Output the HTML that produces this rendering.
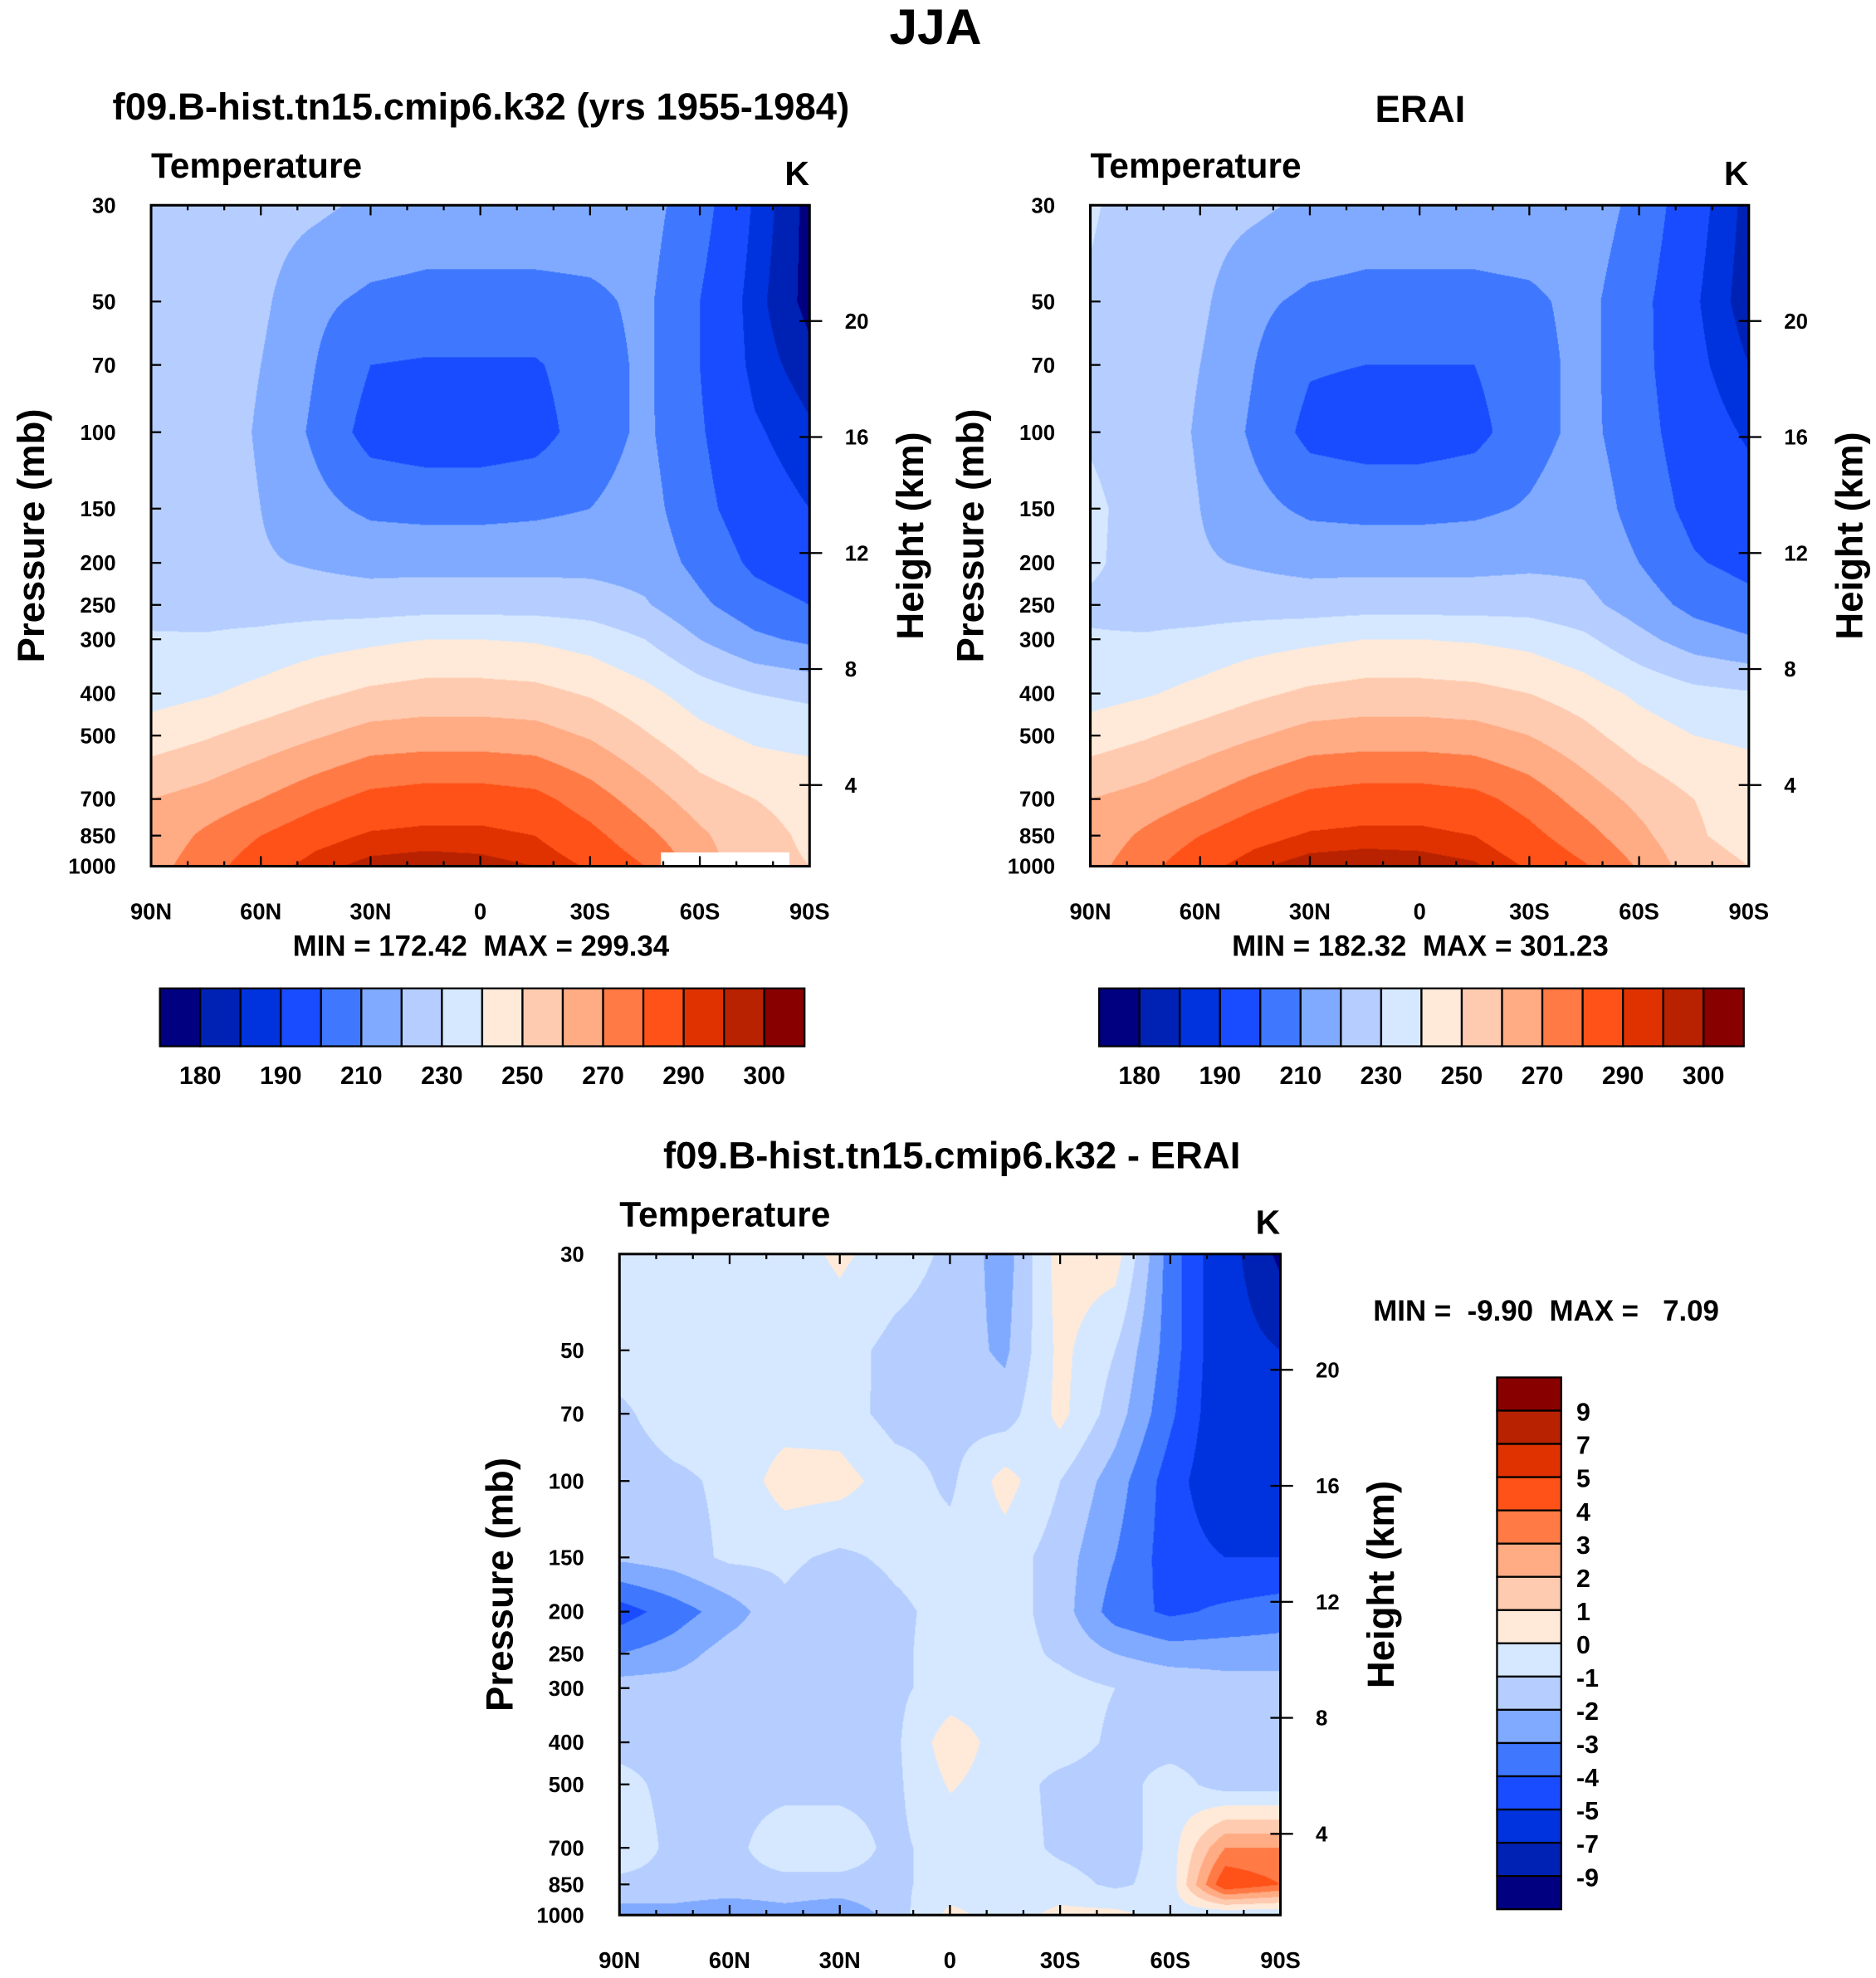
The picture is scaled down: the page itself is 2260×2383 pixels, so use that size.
<!DOCTYPE html>
<html><head><meta charset="utf-8">
<style>
html,body{margin:0;padding:0;background:#fff;}
#root{position:absolute;left:0;top:0;width:1490px;height:1571px;transform:scale(1.51678,1.51687);transform-origin:0 0;font-family:"Liberation Sans",Arial,sans-serif;}
canvas{position:absolute;}
svg{position:absolute;left:0;top:0;}
svg text{white-space:pre;}
</style></head>
<body>
<div id="root">
<canvas id="c1" style="left:120px;top:163px;width:523px;height:525px" width="793" height="796"></canvas>
<canvas id="c2" style="left:866px;top:163px;width:523px;height:525px" width="793" height="796"></canvas>
<canvas id="c3" style="left:492px;top:996px;width:525px;height:525px" width="796" height="796"></canvas>
<svg id="s" width="1490" height="1571" viewBox="0 0 1490 1571" font-family="Liberation Sans, Arial, sans-serif" font-weight="bold" xml:space="preserve"></svg>
</div>
<script>
// ---- data ----
const lats = ["90N","75N","60N","45N","30N","15N","0","15S","30S","45S","60S","75S","90S"];
const levels = [30,50,70,100,150,200,250,300,400,500,700,850,1000];
const tempBounds = [180,185,190,200,210,220,230,240,250,260,270,280,290,295,300];
const tempLabels = ["180","190","210","230","250","270","290","300"];
const diffBounds = [-9,-7,-5,-4,-3,-2,-1,0,1,2,3,4,5,7,9];
const diffLabels = ["-9","-7","-5","-4","-3","-2","-1","0","1","2","3","4","5","7","9"];
const palette = ["#000080","#0022b4","#0033dd","#1a4cff","#3f78ff","#80aaff","#b5ceff","#d6e8ff","#ffead9","#ffcbb0","#ffab84","#ff7a45","#ff5218","#e03200","#b82200","#880000"];
const modelT = [
[226,225,224,222,218,216,216,216,216,214,204,189,178],
[226,225,222,212,208,207,207,207,208,212,200,187,178],
[226,225,220,210,200,199,199,199,205,212,200,188,182],
[226,225,219,208,196,194,194,196,205,212,201,191,186],
[227,225,220,213,208,207,207,208,210,214,203,194,190],
[226,224,221,219,217,217,217,217,217,216,207,198,194],
[227,226,225,225,225,226,226,226,225,221,212,204,200],
[231,231,233,236,238,240,240,239,236,230,220,212,208],
[236,239,243,248,252,254,254,253,249,243,235,230,228],
[245,249,254,259,264,265,265,264,259,251,243,238,236],
[260,264,270,277,283,285,285,283,275,265,255,250,248],
[263,272,280,287,291,292,292,290,283,273,262,252,249],
[266,276,286,293,297,298,297,295,289,280,266,252,250]];
const eraiT = [
[231,226,224,222,218,216,216,216,217,216,207,193,183],
[229,225,222,212,208,207,207,207,208,213,203,191,182],
[228,225,220,210,201,200,200,200,206,213,203,192,185],
[229,225,219,208,197,195,195,197,206,213,204,194,189],
[232,226,220,213,208,207,207,208,211,216,206,197,193],
[232,225,221,219,217,217,217,217,218,218,210,201,197],
[228,226,225,225,225,226,226,226,226,223,215,207,203],
[231,231,233,236,238,240,240,239,237,232,223,215,211],
[236,239,243,248,252,254,254,253,250,245,238,233,231],
[245,249,254,259,264,265,265,264,260,253,245,240,238],
[260,264,270,277,283,285,285,283,276,266,257,250,247],
[263,272,280,287,291,292,292,290,283,274,263,251,247],
[266,277,287,294,298,299,298,296,289,281,269,254,250]];
const diffT = [
[-0.5,-0.5,-0.5,-0.5,0.2,-0.5,-1.2,-2.5,0.5,0.5,-3.5,-6,-9.5],
[-0.5,-0.5,-0.5,-0.8,-0.6,-1.3,-1.5,-2.2,0.3,-1,-3.5,-6,-7],
[-1.2,-0.5,-0.6,-0.5,-0.5,-1.4,-1.3,-1.5,0.3,-1.5,-3.8,-6,-6],
[-1.5,-1.2,-0.8,0.5,0.4,-0.5,-1.2,0.4,-1,-2.5,-4.5,-6,-5.5],
[-1.8,-1.5,-0.8,-0.8,-1.2,-0.8,-0.6,-0.5,-1.5,-3,-4.5,-5,-5],
[-4.5,-3.5,-2.5,-1.2,-1.8,-1.2,-0.7,-0.5,-1.5,-3.5,-4.2,-3.8,-3.5],
[-3,-2.5,-1.5,-1.2,-2,-1.2,-0.6,-0.5,-1.2,-2,-2.5,-2.5,-2.5],
[-1.5,-1.5,-1.2,-1.2,-1.3,-1.2,-0.6,-0.5,-0.6,-1,-1.2,-1.5,-1.5],
[-1.2,-1.2,-1.2,-1.2,-1.2,-1.2,0.6,-0.5,-0.5,-1.2,-1.5,-1.5,-1.5],
[-0.8,-1.2,-1.2,-1.2,-1.2,-1.2,0.1,-0.5,-1.3,-1.5,-0.5,-1.5,-1.5],
[-0.5,-1.2,-1.2,-0.6,-0.6,-1.2,-0.6,-0.5,-1.2,-1.5,-0.5,3,3],
[-1.2,-1.2,-1.2,-1.2,-1.2,-1.2,-0.6,-0.5,-0.6,-1.2,-0.6,5,4],
[-2.5,-2.5,-3,-2.5,-3,-1.5,0.3,-0.5,0.3,0.3,-0.5,-1,-1]];
const xTickLabels = ["90N","60N","30N","0","30S","60S","90S"];
const pTicks = [30,50,70,100,150,200,250,300,400,500,700,850,1000];
const hTicks = [20,16,12,8,4];

// ---- helpers ----
const L30=Math.log(30), L1000=Math.log(1000);
const logLev = levels.map(Math.log);
function pFrac(p){return (Math.log(p)-L30)/(L1000-L30);}
function rowIndex(lp){
  for(let i=0;i<logLev.length-1;i++){ if(lp<=logLev[i+1]) return i+(lp-logLev[i])/(logLev[i+1]-logLev[i]); }
  return logLev.length-1;
}
function classify(v,b){let k=0;while(k<b.length&&v>=b[k])k++;return k;}
function drawField(id,grid,bounds){
  const cv=document.getElementById(id),ctx=cv.getContext('2d');
  const W=cv.width,H=cv.height,img=ctx.createImageData(W,H);
  const rgb=palette.map(c=>[parseInt(c.substr(1,2),16),parseInt(c.substr(3,2),16),parseInt(c.substr(5,2),16)]);
  const nc=lats.length-1;
  for(let y=0;y<H;y++){
    const lp=L30+(y+0.5)/H*(L1000-L30);
    let r=rowIndex(lp);let r0=Math.min(Math.floor(r),levels.length-2),fr=r-r0;
    for(let x=0;x<W;x++){
      const c=(x+0.5)/W*nc;let c0=Math.min(Math.floor(c),nc-1),fc=c-c0;
      const v=(grid[r0][c0]*(1-fc)+grid[r0][c0+1]*fc)*(1-fr)+(grid[r0+1][c0]*(1-fc)+grid[r0+1][c0+1]*fc)*fr;
      const col=rgb[classify(v,bounds)];const o=(y*W+x)*4;
      img.data[o]=col[0];img.data[o+1]=col[1];img.data[o+2]=col[2];img.data[o+3]=255;
    }
  }
  ctx.putImageData(img,0,0);
}
drawField('c1',modelT,tempBounds);
drawField('c2',eraiT,tempBounds);
drawField('c3',diffT,diffBounds);

const S=document.getElementById('s');const NS='http://www.w3.org/2000/svg';
function el(tag,attrs,txt){const e=document.createElementNS(NS,tag);for(const k in attrs)e.setAttribute(k,attrs[k]);if(txt!==undefined)e.textContent=txt;S.appendChild(e);return e;}
function txt(x,y,s,size,anchor,name,extra){
  const e=el('text',Object.assign({x:x,y:y,'font-size':size,'text-anchor':anchor||'middle'},extra||{}),s);
  
  
  return e;
}
function hFrac(km){return (km-1.2)/6.5/Math.log(1000/30);}
function panel(x0,y0,w,h,prefix){
  const f=el('rect',{x:x0,y:y0,width:w,height:h,fill:'none',stroke:'#000','stroke-width':2});
  
  
  for(let d=0;d<=180;d+=10){
    const x=x0+d/180*w;const major=d%30===0;const len=major?8:4;
    el('line',{x1:x,y1:y0+h,x2:x,y2:y0+h-len,stroke:'#000','stroke-width':1.5});
    el('line',{x1:x,y1:y0,x2:x,y2:y0+len,stroke:'#000','stroke-width':1.5});
  }
  xTickLabels.forEach((s,i)=>txt(x0+i*30/180*w,y0+h+42,s,18,'middle',prefix+'-x-tick-label'));
  pTicks.forEach(p=>{
    const y=y0+pFrac(p)*h;
    el('line',{x1:x0,y1:y,x2:x0+8,y2:y,stroke:'#000','stroke-width':1.5});
    txt(x0-28,y+6,String(p),17,'end',prefix+'-pressure-tick-label');
  });
  hTicks.forEach(km=>{
    const y=y0+h-hFrac(km)*h;
    el('line',{x1:x0+w,y1:y,x2:x0+w+10,y2:y,stroke:'#000','stroke-width':1.5});
    el('line',{x1:x0+w,y1:y,x2:x0+w-8,y2:y,stroke:'#000','stroke-width':1.5});
    txt(x0+w+28,y+6,String(km),17,'start',prefix+'-height-tick-label');
  });
  txt(x0,y0-22,'Temperature',28,'start',prefix+'-variable-label');
  txt(x0+w-10,y0-16,'K',27,'middle',prefix+'-units-label');
  const cy=y0+h/2;
  txt(x0-95,cy+10,'Pressure (mb)',30,'middle',prefix+'-y-axis-title',{transform:`rotate(-90 ${x0-95} ${cy})`});
  txt(x0+w+80,cy+10,'Height (km)',30,'middle',prefix+'-right-axis-title',{transform:`rotate(-90 ${x0+w+80} ${cy})`});
}
function hColorbar(x0,y0,prefix){
  const bw=32,bh=46;
  palette.forEach((c,i)=>{const r=el('rect',{x:x0+i*bw,y:y0,width:bw,height:bh,fill:c,stroke:'#000','stroke-width':1.5});
    
    });
  tempLabels.forEach((s,i)=>txt(x0+(2*i+1)*bw,y0+bh+30,s,20,'middle',prefix+'-colorbar-label'));
}
const wr=el('rect',{x:525,y:677,width:102,height:11,fill:'#fff'});



panel(120,163,523,525,'model');
panel(866,163,523,525,'erai');
panel(492,996,525,525,'diff');
txt(743,35,'JJA',40,'middle','figure-title');
txt(382,95,'f09.B-hist.tn15.cmip6.k32 (yrs 1955-1984)',30,'middle','model-title');
txt(1128,97,'ERAI',30,'middle','erai-title');
txt(756,928,'f09.B-hist.tn15.cmip6.k32 - ERAI',30,'middle','diff-title');
txt(382,759,'MIN = 172.42  MAX = 299.34',23,'middle','model-min-max');
txt(1128,759,'MIN = 182.32  MAX = 301.23',23,'middle','erai-min-max');
txt(1228,1049,'MIN =  -9.90  MAX =   7.09',23,'middle','diff-min-max');
hColorbar(127,785,'model');
hColorbar(873,785,'erai');
const vb=26.4;
for(let i=0;i<palette.length;i++){
  const r=el('rect',{x:1189,y:1094+i*vb,width:51,height:vb,fill:palette[palette.length-1-i],stroke:'#000','stroke-width':1.5});
  
  
}
diffLabels.slice().reverse().forEach((s,i)=>txt(1252,1094+(i+1)*vb+8,s,20,'start','diff-colorbar-label'));
</script>
</body></html>
